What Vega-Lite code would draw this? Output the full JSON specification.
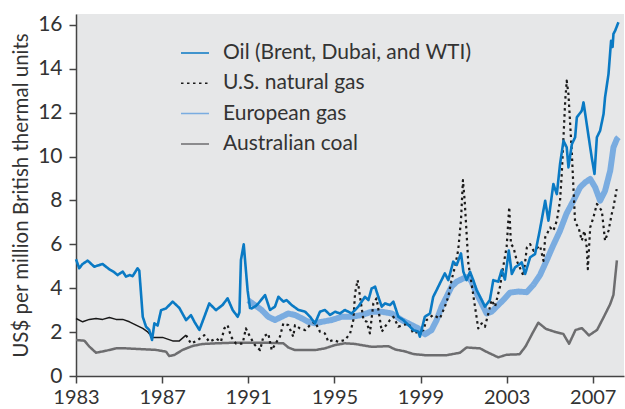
{
"$schema": "https://vega.github.io/schema/vega-lite/v6.json",
"width": 548, "height": 362,
"autosize": {"type": "none"},
"padding": {"left": 76, "top": 14, "right": 1, "bottom": 33},
"background": "white",
"config": {"view": {"fill": "#e6e7e8", "stroke": null}, "font": "Lato", "line": {"strokeJoin": "round"}},
"datasets": {
"oil": [
{"year":1983.0,"value":5.32},{"year":1983.15,"value":4.91},{"year":1983.3,"value":5.1},{"year":1983.54,"value":5.26},{"year":1983.85,"value":4.98},{"year":1984.05,"value":5.05},{"year":1984.24,"value":5.1},{"year":1984.55,"value":4.86},{"year":1984.75,"value":4.75},{"year":1984.93,"value":4.6},{"year":1985.17,"value":4.76},{"year":1985.32,"value":4.53},{"year":1985.5,"value":4.6},{"year":1985.63,"value":4.55},{"year":1985.86,"value":4.91},{"year":1985.94,"value":4.8},{"year":1986.1,"value":2.7},{"year":1986.25,"value":2.25},{"year":1986.4,"value":2.1},{"year":1986.53,"value":1.64},{"year":1986.64,"value":2.4},{"year":1986.79,"value":2.3},{"year":1986.95,"value":3.0},{"year":1987.18,"value":3.08},{"year":1987.49,"value":3.39},{"year":1987.8,"value":3.1},{"year":1988.11,"value":2.55},{"year":1988.34,"value":2.77},{"year":1988.5,"value":2.47},{"year":1988.73,"value":2.1},{"year":1988.96,"value":2.7},{"year":1989.19,"value":3.31},{"year":1989.5,"value":3.0},{"year":1989.81,"value":3.24},{"year":1990.04,"value":3.54},{"year":1990.28,"value":3.0},{"year":1990.51,"value":2.7},{"year":1990.59,"value":2.9},{"year":1990.66,"value":5.29},{"year":1990.79,"value":6.0},{"year":1990.89,"value":4.83},{"year":1990.97,"value":3.9},{"year":1991.08,"value":3.1},{"year":1991.16,"value":3.08},{"year":1991.36,"value":3.2},{"year":1991.47,"value":3.31},{"year":1991.78,"value":3.69},{"year":1992.01,"value":3.01},{"year":1992.24,"value":3.16},{"year":1992.4,"value":3.61},{"year":1992.63,"value":3.39},{"year":1992.78,"value":3.46},{"year":1993.02,"value":3.23},{"year":1993.33,"value":3.01},{"year":1993.64,"value":2.93},{"year":1993.87,"value":2.7},{"year":1994.1,"value":2.4},{"year":1994.33,"value":2.93},{"year":1994.56,"value":3.01},{"year":1994.8,"value":2.78},{"year":1995.03,"value":2.93},{"year":1995.26,"value":2.85},{"year":1995.49,"value":3.01},{"year":1995.8,"value":2.85},{"year":1996.11,"value":3.16},{"year":1996.42,"value":3.61},{"year":1996.58,"value":3.46},{"year":1996.73,"value":3.99},{"year":1996.89,"value":4.07},{"year":1997.04,"value":3.61},{"year":1997.2,"value":3.16},{"year":1997.35,"value":3.31},{"year":1997.58,"value":3.23},{"year":1997.74,"value":3.39},{"year":1997.97,"value":2.7},{"year":1998.2,"value":2.55},{"year":1998.44,"value":2.32},{"year":1998.67,"value":2.09},{"year":1998.9,"value":2.02},{"year":1998.97,"value":1.79},{"year":1999.2,"value":2.7},{"year":1999.44,"value":2.85},{"year":1999.59,"value":3.61},{"year":1999.75,"value":3.92},{"year":1999.9,"value":4.22},{"year":2000.13,"value":4.68},{"year":2000.29,"value":4.37},{"year":2000.52,"value":5.21},{"year":2000.68,"value":5.06},{"year":2000.88,"value":5.59},{"year":2000.99,"value":4.75},{"year":2001.14,"value":4.37},{"year":2001.3,"value":4.75},{"year":2001.45,"value":4.37},{"year":2001.6,"value":3.92},{"year":2001.84,"value":3.46},{"year":2001.99,"value":3.16},{"year":2002.22,"value":3.46},{"year":2002.38,"value":4.37},{"year":2002.61,"value":4.3},{"year":2002.77,"value":4.83},{"year":2002.92,"value":4.4},{"year":2003.1,"value":5.72},{"year":2003.24,"value":4.65},{"year":2003.39,"value":4.95},{"year":2003.55,"value":5.06},{"year":2003.7,"value":5.18},{"year":2003.86,"value":4.65},{"year":2004.09,"value":5.41},{"year":2004.32,"value":5.56},{"year":2004.55,"value":6.7},{"year":2004.79,"value":7.99},{"year":2004.94,"value":7.08},{"year":2005.17,"value":8.75},{"year":2005.33,"value":8.29},{"year":2005.48,"value":9.66},{"year":2005.64,"value":10.72},{"year":2005.79,"value":10.42},{"year":2005.87,"value":9.51},{"year":2006.03,"value":10.57},{"year":2006.18,"value":10.88},{"year":2006.26,"value":11.79},{"year":2006.49,"value":12.09},{"year":2006.57,"value":12.47},{"year":2006.72,"value":11.48},{"year":2006.88,"value":10.42},{"year":2006.95,"value":9.97},{"year":2007.08,"value":9.21},{"year":2007.19,"value":10.88},{"year":2007.34,"value":11.18},{"year":2007.5,"value":11.94},{"year":2007.57,"value":12.7},{"year":2007.73,"value":13.76},{"year":2007.85,"value":15.28},{"year":2007.92,"value":15.0},{"year":2007.96,"value":15.59},{"year":2008.04,"value":15.74},{"year":2008.19,"value":16.12}
],
"eur": [
{"year":1991.0,"value":3.45},{"year":1991.08,"value":3.39},{"year":1991.31,"value":3.23},{"year":1991.62,"value":3.01},{"year":1991.93,"value":2.7},{"year":1992.24,"value":2.55},{"year":1992.55,"value":2.7},{"year":1992.86,"value":2.85},{"year":1993.17,"value":2.78},{"year":1993.48,"value":2.63},{"year":1993.79,"value":2.47},{"year":1994.1,"value":2.4},{"year":1994.41,"value":2.47},{"year":1994.87,"value":2.55},{"year":1995.34,"value":2.7},{"year":1995.8,"value":2.7},{"year":1996.27,"value":2.78},{"year":1996.73,"value":2.93},{"year":1997.2,"value":2.93},{"year":1997.66,"value":2.85},{"year":1998.13,"value":2.55},{"year":1998.59,"value":2.32},{"year":1998.9,"value":2.17},{"year":1999.21,"value":1.9},{"year":1999.51,"value":2.09},{"year":1999.75,"value":2.55},{"year":1999.98,"value":3.16},{"year":2000.21,"value":3.61},{"year":2000.44,"value":4.07},{"year":2000.68,"value":4.3},{"year":2000.99,"value":4.45},{"year":2001.22,"value":4.52},{"year":2001.37,"value":4.3},{"year":2001.6,"value":3.77},{"year":2001.84,"value":3.31},{"year":2002.07,"value":2.85},{"year":2002.3,"value":2.93},{"year":2002.53,"value":3.16},{"year":2002.84,"value":3.46},{"year":2003.15,"value":3.8},{"year":2003.54,"value":3.85},{"year":2003.93,"value":3.82},{"year":2004.24,"value":4.15},{"year":2004.55,"value":4.6},{"year":2004.85,"value":5.25},{"year":2005.16,"value":5.95},{"year":2005.47,"value":6.6},{"year":2005.78,"value":7.4},{"year":2006.1,"value":7.99},{"year":2006.41,"value":8.6},{"year":2006.65,"value":8.83},{"year":2006.88,"value":8.98},{"year":2007.11,"value":8.6},{"year":2007.34,"value":7.99},{"year":2007.57,"value":8.44},{"year":2007.81,"value":9.36},{"year":2007.96,"value":10.42},{"year":2008.12,"value":10.8},{"year":2008.19,"value":10.88}
],
"coal": [
{"year":1983.0,"value":1.64},{"year":1983.39,"value":1.61},{"year":1983.62,"value":1.34},{"year":1983.93,"value":1.06},{"year":1984.39,"value":1.15},{"year":1984.86,"value":1.26},{"year":1985.32,"value":1.26},{"year":1986.1,"value":1.22},{"year":1986.71,"value":1.19},{"year":1987.18,"value":1.11},{"year":1987.33,"value":0.91},{"year":1987.57,"value":0.96},{"year":1987.95,"value":1.19},{"year":1988.42,"value":1.37},{"year":1988.88,"value":1.46},{"year":1989.5,"value":1.49},{"year":1990.43,"value":1.52},{"year":1991.36,"value":1.52},{"year":1991.78,"value":1.52},{"year":1992.63,"value":1.49},{"year":1992.86,"value":1.3},{"year":1993.17,"value":1.18},{"year":1994.1,"value":1.18},{"year":1994.56,"value":1.26},{"year":1995.03,"value":1.41},{"year":1995.49,"value":1.49},{"year":1995.96,"value":1.46},{"year":1996.73,"value":1.33},{"year":1997.51,"value":1.36},{"year":1997.82,"value":1.21},{"year":1998.28,"value":1.12},{"year":1998.67,"value":1.0},{"year":1999.21,"value":0.95},{"year":1999.59,"value":0.95},{"year":2000.21,"value":0.95},{"year":2000.83,"value":1.06},{"year":2001.14,"value":1.3},{"year":2001.76,"value":1.26},{"year":2002.07,"value":1.1},{"year":2002.61,"value":0.85},{"year":2003.0,"value":0.97},{"year":2003.6,"value":0.99},{"year":2003.88,"value":1.35},{"year":2004.2,"value":1.95},{"year":2004.47,"value":2.43},{"year":2004.82,"value":2.15},{"year":2005.28,"value":2.0},{"year":2005.63,"value":1.92},{"year":2005.9,"value":1.47},{"year":2006.2,"value":2.1},{"year":2006.5,"value":2.18},{"year":2006.82,"value":1.85},{"year":2007.2,"value":2.1},{"year":2007.5,"value":2.67},{"year":2007.81,"value":3.28},{"year":2007.96,"value":3.7},{"year":2008.12,"value":5.27}
],
"usgas_early": [
{"year":1983.0,"value":2.62},{"year":1983.31,"value":2.47},{"year":1983.62,"value":2.58},{"year":1983.93,"value":2.62},{"year":1984.24,"value":2.58},{"year":1984.55,"value":2.67},{"year":1984.86,"value":2.58},{"year":1985.17,"value":2.58},{"year":1985.48,"value":2.47},{"year":1985.79,"value":2.32},{"year":1986.1,"value":2.17},{"year":1986.33,"value":2.01},{"year":1986.56,"value":1.76},{"year":1987.02,"value":1.76},{"year":1987.49,"value":1.6},{"year":1987.8,"value":1.6},{"year":1988.11,"value":1.86}
],
"usgas": [
{"year":1988.11,"value":1.86},{"year":1988.34,"value":1.48},{"year":1988.65,"value":1.63},{"year":1988.96,"value":1.86},{"year":1989.19,"value":1.56},{"year":1989.5,"value":1.71},{"year":1989.73,"value":1.56},{"year":1989.89,"value":2.17},{"year":1990.04,"value":2.32},{"year":1990.2,"value":1.79},{"year":1990.43,"value":1.48},{"year":1990.74,"value":1.48},{"year":1990.89,"value":2.17},{"year":1991.08,"value":1.79},{"year":1991.31,"value":1.41},{"year":1991.55,"value":1.18},{"year":1991.7,"value":1.79},{"year":1991.93,"value":1.94},{"year":1992.09,"value":1.18},{"year":1992.32,"value":1.56},{"year":1992.47,"value":1.79},{"year":1992.63,"value":2.4},{"year":1992.86,"value":2.32},{"year":1993.09,"value":1.79},{"year":1993.17,"value":2.32},{"year":1993.4,"value":2.17},{"year":1993.64,"value":2.09},{"year":1993.87,"value":2.32},{"year":1994.1,"value":2.47},{"year":1994.33,"value":2.02},{"year":1994.56,"value":1.94},{"year":1994.72,"value":1.56},{"year":1994.95,"value":1.64},{"year":1995.18,"value":1.56},{"year":1995.49,"value":1.64},{"year":1995.73,"value":1.94},{"year":1995.88,"value":2.55},{"year":1995.96,"value":3.77},{"year":1996.08,"value":4.37},{"year":1996.19,"value":3.61},{"year":1996.35,"value":2.55},{"year":1996.5,"value":2.47},{"year":1996.65,"value":1.94},{"year":1996.81,"value":3.31},{"year":1996.96,"value":3.54},{"year":1997.12,"value":2.55},{"year":1997.2,"value":2.02},{"year":1997.35,"value":2.25},{"year":1997.58,"value":2.55},{"year":1997.74,"value":2.7},{"year":1997.97,"value":2.25},{"year":1998.2,"value":2.32},{"year":1998.44,"value":2.4},{"year":1998.67,"value":1.94},{"year":1998.9,"value":2.02},{"year":1999.13,"value":2.09},{"year":1999.28,"value":2.55},{"year":1999.59,"value":2.78},{"year":1999.9,"value":2.62},{"year":2000.13,"value":3.16},{"year":2000.29,"value":3.61},{"year":2000.44,"value":4.37},{"year":2000.6,"value":4.98},{"year":2000.75,"value":5.74},{"year":2000.88,"value":7.11},{"year":2000.97,"value":8.93},{"year":2001.05,"value":8.0},{"year":2001.14,"value":6.5},{"year":2001.22,"value":5.13},{"year":2001.37,"value":4.22},{"year":2001.53,"value":3.16},{"year":2001.68,"value":2.17},{"year":2001.84,"value":2.4},{"year":2001.99,"value":2.24},{"year":2002.15,"value":2.85},{"year":2002.3,"value":3.46},{"year":2002.46,"value":3.16},{"year":2002.69,"value":4.07},{"year":2002.84,"value":4.98},{"year":2003.0,"value":5.89},{"year":2003.12,"value":7.7},{"year":2003.2,"value":6.01},{"year":2003.32,"value":5.86},{"year":2003.47,"value":5.25},{"year":2003.78,"value":4.57},{"year":2003.94,"value":5.86},{"year":2004.09,"value":6.01},{"year":2004.25,"value":5.71},{"year":2004.55,"value":5.94},{"year":2004.71,"value":5.25},{"year":2004.79,"value":6.32},{"year":2005.02,"value":6.77},{"year":2005.17,"value":6.62},{"year":2005.33,"value":7.08},{"year":2005.48,"value":7.99},{"year":2005.56,"value":9.21},{"year":2005.64,"value":10.88},{"year":2005.72,"value":12.55},{"year":2005.79,"value":13.46},{"year":2005.87,"value":12.85},{"year":2005.95,"value":11.48},{"year":2006.03,"value":10.12},{"year":2006.1,"value":8.6},{"year":2006.18,"value":7.0},{"year":2006.34,"value":6.77},{"year":2006.49,"value":6.17},{"year":2006.61,"value":6.62},{"year":2006.72,"value":5.86},{"year":2006.77,"value":4.87},{"year":2006.88,"value":6.77},{"year":2007.03,"value":7.23},{"year":2007.19,"value":7.84},{"year":2007.42,"value":7.53},{"year":2007.57,"value":6.17},{"year":2007.73,"value":6.62},{"year":2007.88,"value":7.38},{"year":2007.96,"value":7.69},{"year":2008.11,"value":8.52}
]
},
"encoding": {
  "x": {"field": "year", "type": "quantitative",
        "scale": {"domain": [1983, 2008.45], "nice": false, "zero": false},
        "axis": {"values": [1983,1987,1991,1995,1999,2003,2007], "format": "d", "title": null, "grid": false,
                 "labelFontSize": 20, "labelColor": "#333333", "labelPadding": 4, "labelFlush": false,
                 "tickSize": 7, "tickColor": "#444444", "tickWidth": 1.5, "domainColor": "#444444", "domainWidth": 1.5}},
  "y": {"field": "value", "type": "quantitative",
        "scale": {"domain": [0, 16.5], "nice": false},
        "axis": {"values": [0,2,4,6,8,10,12,14,16], "grid": false, "title": "US$ per million British thermal units",
                 "titleFontSize": 20.5, "titleFontWeight": "normal", "titleColor": "#333333", "titlePadding": 6,
                 "labelFontSize": 21, "labelColor": "#333333", "labelPadding": 7,
                 "tickSize": 7, "tickColor": "#444444", "tickWidth": 1.5, "domainColor": "#444444", "domainWidth": 1.5}}
},
"layer": [
  {"data": {"name": "eur"}, "mark": {"type": "line", "strokeWidth": 6},
   "encoding": {
     "color": {"datum": "European gas", "type": "nominal"},
     "strokeDash": {"datum": "European gas", "type": "nominal"}}},
  {"data": {"name": "coal"}, "mark": {"type": "line", "strokeWidth": 2.5},
   "encoding": {
     "color": {"datum": "Australian coal", "type": "nominal"},
     "strokeDash": {"datum": "Australian coal", "type": "nominal"}}},
  {"data": {"name": "usgas_early"}, "mark": {"type": "line", "color": "#1a1a1a", "strokeWidth": 1.5}},
  {"data": {"name": "usgas"}, "mark": {"type": "line", "strokeWidth": 2.2},
   "encoding": {
     "color": {"datum": "U.S. natural gas", "type": "nominal"},
     "strokeDash": {"datum": "U.S. natural gas", "type": "nominal"}}},
  {"data": {"name": "oil"}, "mark": {"type": "line", "strokeWidth": 2.6},
   "encoding": {
     "color": {"datum": "Oil (Brent, Dubai, and WTI)", "type": "nominal",
               "scale": {"domain": ["Oil (Brent, Dubai, and WTI)", "U.S. natural gas", "European gas", "Australian coal"],
                         "range": ["#0a7ac4", "#1a1a1a", "#7aace0", "#6d6d6f"]},
               "legend": {"orient": "none", "legendX": 104, "legendY": 24, "title": null, "symbolType": "stroke",
                          "symbolSize": 784, "labelFontSize": 21, "labelColor": "#333333", "labelOffset": 13, "rowPadding": 5.3, "labelLimit": 0,
                          "encode": {"symbols": {"update": {"strokeWidth": {"signal": "datum.value === 'European gas' ? 6 : datum.value === 'U.S. natural gas' ? 2 : 2.6"}}}}}},
     "strokeDash": {"datum": "Oil (Brent, Dubai, and WTI)", "type": "nominal",
               "scale": {"domain": ["Oil (Brent, Dubai, and WTI)", "U.S. natural gas", "European gas", "Australian coal"],
                         "range": [[1, 0], [2.5, 3.5], [1, 0], [1, 0]]},
               "legend": {"orient": "none", "legendX": 104, "legendY": 24, "title": null, "symbolType": "stroke",
                          "symbolSize": 784, "labelFontSize": 21, "labelColor": "#333333", "labelOffset": 13, "rowPadding": 5.3, "labelLimit": 0,
                          "encode": {"symbols": {"update": {"strokeWidth": {"signal": "datum.value === 'European gas' ? 6 : datum.value === 'U.S. natural gas' ? 2 : 2.6"}}}}}}}}
]
}
